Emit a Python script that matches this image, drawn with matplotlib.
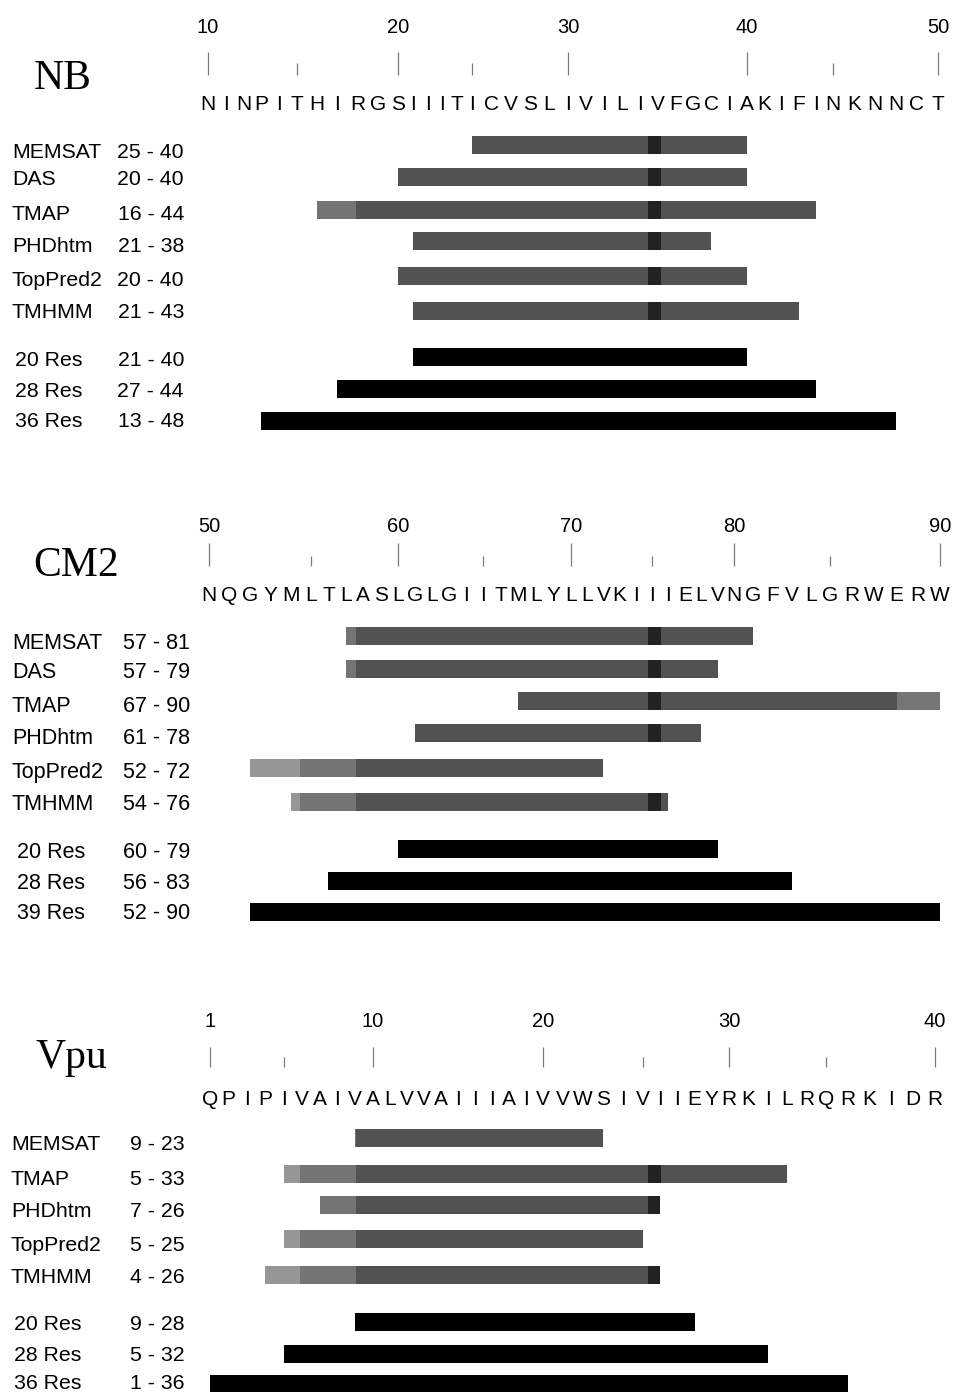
import numpy as np
import matplotlib
matplotlib.use("Agg")
import matplotlib.pyplot as plt
import matplotlib.transforms as mtransforms
from matplotlib.patches import Rectangle
from matplotlib import font_manager

# ---------------------------------------------------------------- data
methods_nb = ["MEMSAT", "DAS", "TMAP", "PHDhtm", "TopPred2", "TMHMM", "20 Res", "28 Res", "36 Res"]
range_labels_nb = ["25 - 40", "20 - 40", "16 - 44", "21 - 38", "20 - 40", "21 - 43", "21 - 40", "27 - 44", "13 - 48"]
starts_nb = [25, 20, 16, 21, 20, 21, 21, 17, 13]
ends_nb = [40, 40, 44, 38, 40, 43, 40, 44, 48]
windows_nb = [False, False, False, False, False, False, True, True, True]
sequence_nb = "NINPITHIRGSIIITICVSLIVILIVFGCIAKIFINKNNCT"
first_residue_nb = 10
numbered_ticks_nb = [10, 20, 30, 40, 50]
minor_ticks_nb = [15, 25, 45]

methods_cm2 = ["MEMSAT", "DAS", "TMAP", "PHDhtm", "TopPred2", "TMHMM", "20 Res", "28 Res", "39 Res"]
range_labels_cm2 = ["57 - 81", "57 - 79", "67 - 90", "61 - 78", "52 - 72", "54 - 76", "60 - 79", "56 - 83", "52 - 90"]
starts_cm2 = [57, 57, 67, 61, 52, 54, 60, 56, 52]
ends_cm2 = [81, 79, 90, 78, 72, 76, 79, 83, 90]
windows_cm2 = [False, False, False, False, False, False, True, True, True]
sequence_cm2 = "NQGYMLTLASLGLGIITMLYLLVKIIIELVNGFVLGRWERW"
first_residue_cm2 = 50
numbered_ticks_cm2 = [50, 60, 70, 80, 90]
minor_ticks_cm2 = [55, 65, 75, 85]

methods_vpu = ["MEMSAT", "TMAP", "PHDhtm", "TopPred2", "TMHMM", "20 Res", "28 Res", "36 Res"]
range_labels_vpu = ["9 - 23", "5 - 33", "7 - 26", "5 - 25", "4 - 26", "9 - 28", "5 - 32", "1 - 36"]
starts_vpu = [9, 5, 7, 5, 4, 9, 5, 1]
ends_vpu = [23, 33, 26, 25, 26, 28, 32, 36]
windows_vpu = [False, False, False, False, False, True, True, True]
sequence_vpu = "QPIPIVAIVALVVAIIIAIVVWSIVIIEYRKILRQRKIDR"
first_residue_vpu = 1
numbered_ticks_vpu = [1, 10, 20, 30, 40]
minor_ticks_vpu = [5, 25, 35]

# ---------------------------------------------------------------- layout (pixels)
W, H = 954, 1392
fig = plt.figure(figsize=(W / 100, H / 100), dpi=100)
fig.patch.set_facecolor("white")


def font_available(name):
    try:
        font_manager.findfont(font_manager.FontProperties(family=name), fallback_to_default=False)
        return True
    except Exception:
        return False


SANS = "Liberation Sans"
SERIF = "Liberation Serif"
NARROW = "Liberation Sans Narrow" if font_available("Liberation Sans Narrow") else SANS

layout_nb = dict(
    title_x=34, title_base=89,
    num_base=33, tick_top=52, minor_top=63, tick_bot=75, seq_base=110,
    bar_rows=[145, 176.5, 210, 241, 276, 311, 357, 389, 421],
    label_base=[158, 185, 220, 252, 286, 318, 366, 397, 427],
    label_x=12, window_label_x=15, range_right=184,
    label_font=SANS, label_size=15.3,
    scale_res=[10, 15, 20, 25, 30, 40, 45, 50],
    scale_px=[208, 297, 398, 472, 568, 747, 833, 938],
)
layout_cm2 = dict(
    title_x=33, title_base=576,
    num_base=532, tick_top=543, minor_top=556, tick_bot=566, seq_base=601,
    bar_rows=[636, 669, 701, 733, 768, 802, 849, 881, 912],
    label_base=[649, 678, 712, 744, 778, 810, 858, 889, 919],
    label_x=12, window_label_x=17, range_right=190,
    label_font=SANS, label_size=15.5,
    scale_res=[50, 55, 60, 65, 70, 75, 80, 85, 90],
    scale_px=[209, 311, 398, 483, 571, 652, 734, 830, 940],
)
layout_vpu = dict(
    title_x=35, title_base=1068,
    num_base=1027, tick_top=1047, minor_top=1057, tick_bot=1067, seq_base=1105,
    bar_rows=[1138, 1174, 1205, 1239, 1275, 1322, 1354, 1384],
    label_base=[1150, 1185, 1217, 1251, 1283, 1330, 1361, 1389],
    label_x=11, window_label_x=14, range_right=185,
    label_font=NARROW, label_size=17.5 if NARROW != SANS else 15.3,
    scale_res=[1, 5, 10, 20, 25, 30, 35, 40],
    scale_px=[210, 284, 373, 543, 643, 729, 826, 935],
)

BAR_H = 18
GRAY = "#525252"
TICK_COLOR = "#7a7a7a"
# scanner shading zones (figure pixel columns) on the grey bars
shade_zones = [(0, 300, "#969696"), (300, 356, "#747474"), (648, 661, "#222222"), (897, W, "#767676")]


def make_scale(res, px):
    res = np.asarray(res, float)
    px = np.asarray(px, float)
    s0 = (px[1] - px[0]) / (res[1] - res[0])
    s1 = (px[-1] - px[-2]) / (res[-1] - res[-2])
    rr = np.concatenate([[res[0] - 1000], res, [res[-1] + 1000]])
    pp = np.concatenate([[px[0] - 1000 * s0], px, [px[-1] + 1000 * s1]])

    def fwd(x):
        return np.interp(x, rr, pp)

    def inv(y):
        return np.interp(y, pp, rr)

    return fwd, inv


def draw_panel(name, methods, range_labels, starts, ends, windows, sequence,
               first_residue, numbered, minor, L):
    ax = fig.add_axes([0, 0, 1, 1])
    ax.set_axis_off()
    ax.patch.set_alpha(0)
    fwd, inv = make_scale(L["scale_res"], L["scale_px"])
    ax.set_xscale("function", functions=(fwd, inv))
    ax.set_xlim(float(inv(0.0)), float(inv(float(W))))
    ax.set_ylim(H, 0)

    # panel name
    fig.text(L["title_x"] / W, 1 - L["title_base"] / H, name, family=SERIF,
             fontsize=30, ha="left", va="baseline")

    # residue ruler
    for t in numbered:
        ax.text(t, L["num_base"], str(t), ha="center", va="baseline",
                fontsize=14.5, family=SANS)
    ax.vlines(numbered, L["tick_top"], L["tick_bot"], color=TICK_COLOR, lw=0.9)
    ax.vlines(minor, L["minor_top"], L["tick_bot"], color=TICK_COLOR, lw=0.9)

    # sequence
    residues = first_residue + np.arange(len(sequence))
    for r, ch in zip(residues, sequence):
        ax.text(r, L["seq_base"], ch, ha="center", va="baseline",
                fontsize=15, family=SANS)

    # bars
    starts = np.asarray(starts, float)
    ends = np.asarray(ends, float)
    colors = ["black" if w else GRAY for w in windows]
    bars = ax.barh(L["bar_rows"], ends - starts, left=starts, height=BAR_H,
                   color=colors, linewidth=0)
    blend = mtransforms.blended_transform_factory(fig.transFigure, ax.transData)
    for bar, w in zip(bars.patches, windows):
        if w:
            continue
        for x0, x1, c in shade_zones:
            rect = Rectangle((x0 / W, bar.get_y()), (x1 - x0) / W, bar.get_height(),
                             transform=blend, facecolor=c, linewidth=0)
            ax.add_artist(rect)
            rect.set_clip_path(bar)

    # method labels and ranges
    for m, rl, yb, w in zip(methods, range_labels, L["label_base"], windows):
        lx = L["window_label_x"] if w else L["label_x"]
        fig.text(lx / W, 1 - yb / H, m, family=L["label_font"],
                 fontsize=L["label_size"], ha="left", va="baseline")
        fig.text(L["range_right"] / W, 1 - yb / H, rl, family=L["label_font"],
                 fontsize=L["label_size"], ha="right", va="baseline")


draw_panel("NB", methods_nb, range_labels_nb, starts_nb, ends_nb, windows_nb,
           sequence_nb, first_residue_nb, numbered_ticks_nb, minor_ticks_nb, layout_nb)
draw_panel("CM2", methods_cm2, range_labels_cm2, starts_cm2, ends_cm2, windows_cm2,
           sequence_cm2, first_residue_cm2, numbered_ticks_cm2, minor_ticks_cm2, layout_cm2)
draw_panel("Vpu", methods_vpu, range_labels_vpu, starts_vpu, ends_vpu, windows_vpu,
           sequence_vpu, first_residue_vpu, numbered_ticks_vpu, minor_ticks_vpu, layout_vpu)

fig.savefig("out.png", dpi=100, facecolor="white")
